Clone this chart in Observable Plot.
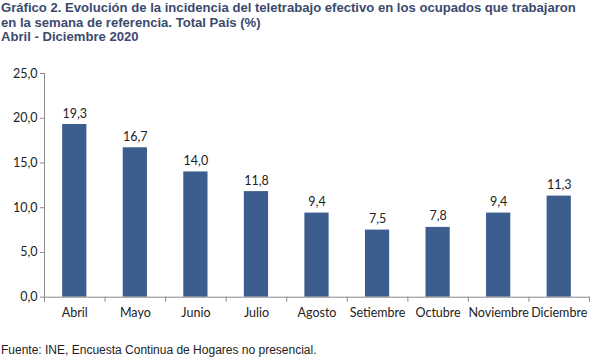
<!DOCTYPE html>
<html>
<head>
<meta charset="utf-8">
<script src="https://cdn.jsdelivr.net/npm/d3@7"></script>
<script src="https://cdn.jsdelivr.net/npm/@observablehq/plot@0.6"></script>
<style>
  html, body { margin: 0; padding: 0; background: #fff; }
  #wrap { width: 598px; height: 363px; position: relative; overflow: hidden; }
  #title { position: absolute; left: 1px; top: 1px; font-family: "Liberation Sans", Arial, sans-serif; font-weight: bold; font-size: 13.1px; line-height: 14.5px; color: #3b4a6e; white-space: nowrap; }
  #chart { position: absolute; left: 0; top: 50px; }
  #caption { position: absolute; left: 1px; top: 343px; font-family: "Liberation Sans", Arial, sans-serif; font-size: 12px; color: #222; white-space: nowrap; }
</style>
</head>
<body>
<div id="wrap">
  <div id="title">Gráfico 2. Evolución de la incidencia del teletrabajo efectivo en los ocupados que trabajaron<br>en la semana de referencia. Total País (%)<br>Abril - Diciembre 2020</div>
  <div id="chart"></div>
  <div id="caption">Fuente: INE, Encuesta Continua de Hogares no presencial.</div>
</div>
<script>
const months = ["Abril", "Mayo", "Junio", "Julio", "Agosto", "Setiembre", "Octubre", "Noviembre", "Diciembre"];
const values = [19.3, 16.7, 14.0, 11.8, 9.4, 7.5, 7.8, 9.4, 11.3];
const yTicks = [0, 5, 10, 15, 20, 25];

const data = months.map((m, i) => ({ i, month: m, value: values[i] }));
const fmt = d => d.toFixed(1).replace(".", ",");
const sep = d3.range(months.length + 1);
const font = "Lato, sans-serif";

const plot = Plot.plot({
  width: 598,
  height: 280,
  marginTop: 23,
  marginBottom: 33.3,
  marginLeft: 44,
  marginRight: 9,
  style: { fontFamily: font, fontSize: "12.5px", color: "#222", background: "transparent" },
  x: { type: "linear", domain: [0, months.length], axis: null },
  y: { type: "linear", domain: [0, 25], axis: null },
  marks: [
    Plot.rectY(data, { x1: d => d.i + 0.3, x2: d => d.i + 0.7, y: "value", fill: "#3c5e8f" }),
    Plot.text(data, { x: d => d.i + 0.5, y: "value", text: d => fmt(d.value), lineAnchor: "bottom", dy: -7, fill: "#222", fontSize: 12.5 }),
    Plot.ruleY([0], { stroke: "#8a8a8a" }),
    Plot.ruleX([0], { y1: 0, y2: 25, stroke: "#8a8a8a" }),
    Plot.axisX(sep, { tickSize: 5, tickFormat: () => "", stroke: "#8a8a8a", anchor: "bottom", label: null }),
    Plot.text(data, { x: d => d.i + 0.5, text: "month", frameAnchor: "bottom", lineAnchor: "middle", dy: 16, fill: "#222", fontSize: 12.5 }),
    Plot.axisY(yTicks, { tickFormat: fmt, tickSize: 4, tickPadding: 3, stroke: "#8a8a8a", fill: "#222", fontSize: 12.5, label: null })
  ]
});
document.getElementById("chart").appendChild(plot);
</script>
</body>
</html>
